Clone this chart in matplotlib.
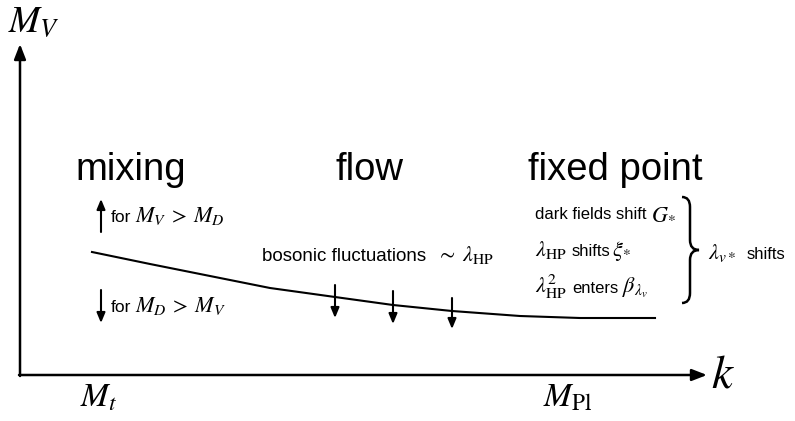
import matplotlib.pyplot as plt
from matplotlib.path import Path
from matplotlib.patches import PathPatch

plt.rcParams['font.family'] = ['Liberation Sans', 'DejaVu Sans']
plt.rcParams['mathtext.fontset'] = 'stix'

# schematic curve M_V(k), pixel coordinates of the sketch (y downwards)
curve_x = [92, 150, 215, 270, 335, 393, 452, 520, 580, 655]
curve_y = [252, 264, 277, 288, 297, 305, 311, 316, 318, 318]

# downward arrows along the flow
flow_arrow_x = [335, 393, 452]
flow_arrow_top = [285, 291, 298]
flow_arrow_tip = [318, 324, 329]

phase_labels = ["mixing", "flow", "fixed point"]
phase_x = [75, 335, 528]

# fixed point annotations: (text, x, baseline y, is_math)
fp_pieces = [
    ("dark fields shift", 535, 219, False), (r"$G_{*}$", 651, 219, True),
    (r"$\lambda_{\mathrm{HP}}$", 535, 256, True), ("shifts", 572, 256, False),
    (r"$\xi_{*}$", 612, 256, True),
    (r"$\lambda_{\mathrm{HP}}^{2}$", 535, 293, True), ("enters", 572, 293, False),
    (r"$\beta_{\lambda_{v}}$", 622, 293, True),
]

TXT = 12
MATH = 16

fig = plt.figure(figsize=(7.95, 4.21), dpi=100)
ax = fig.add_axes([0, 0, 1, 1])
ax.set_xlim(0, 795)
ax.set_ylim(421, 0)
ax.axis('off')

# axes of the sketch
ax.annotate('', xy=(20, 44), xytext=(20, 376),
            arrowprops=dict(arrowstyle='-|>,head_length=0.9,head_width=0.35', lw=1.8, color='black',
                            shrinkA=0, shrinkB=0))
ax.annotate('', xy=(707, 375), xytext=(19, 375),
            arrowprops=dict(arrowstyle='-|>,head_length=0.9,head_width=0.35', lw=1.8, color='black',
                            shrinkA=0, shrinkB=0))

ax.text(8, 22, r'$M_V$', fontsize=27, va='center', ha='left')
ax.text(711, 375, r'$k$', fontsize=34, va='center', ha='left')
ax.text(80, 398, r'$M_t$', fontsize=24, va='center', ha='left')
ax.text(543, 398, r'$M_{\mathrm{Pl}}$', fontsize=24, va='center', ha='left')

# curve
ax.plot(curve_x, curve_y, color='black', lw=1.5)

for x, t, b in zip(flow_arrow_x, flow_arrow_top, flow_arrow_tip):
    ax.annotate('', xy=(x, b), xytext=(x, t),
                arrowprops=dict(arrowstyle='-|>,head_length=0.6,head_width=0.25', lw=1.5,
                                color='black', shrinkA=0, shrinkB=0))

for lab, x in zip(phase_labels, phase_x):
    ax.text(x, 170, lab, fontsize=27.5, va='center', ha='left')

# mixing arrows
ax.annotate('', xy=(101, 199), xytext=(101, 232),
            arrowprops=dict(arrowstyle='-|>,head_length=0.6,head_width=0.25', lw=1.5,
                            color='black', shrinkA=0, shrinkB=0))
ax.annotate('', xy=(101, 323), xytext=(101, 290),
            arrowprops=dict(arrowstyle='-|>,head_length=0.6,head_width=0.25', lw=1.5,
                            color='black', shrinkA=0, shrinkB=0))
ax.text(111, 222, 'for', fontsize=12.5, va='baseline', ha='left')
ax.text(135, 222, r'$M_V\:>\:M_D$', fontsize=MATH, va='baseline', ha='left')
ax.text(111, 312, 'for', fontsize=12.5, va='baseline', ha='left')
ax.text(135, 312, r'$M_D\:>\:M_V$', fontsize=MATH, va='baseline', ha='left')

ax.text(262, 261, 'bosonic fluctuations', fontsize=13.5, va='baseline', ha='left')
ax.text(436, 261, r'$\sim\;\lambda_{\mathrm{HP}}$', fontsize=MATH, va='baseline', ha='left')

for s, x, y, is_math in fp_pieces:
    ax.text(x, y, s, fontsize=MATH if is_math else TXT, va='baseline', ha='left')

# brace
x0, xm, xt = 682, 690, 699
y0, yc, y1 = 197, 250, 303
verts = [(x0, y0), (xm, y0), (xm, y0 + 10),
         (xm, yc - 10),
         (xm, yc), (xt, yc),
         (xm, yc), (xm, yc + 10),
         (xm, y1 - 10),
         (xm, y1), (x0, y1)]
codes = [Path.MOVETO, Path.CURVE3, Path.CURVE3,
         Path.LINETO,
         Path.CURVE3, Path.CURVE3,
         Path.CURVE3, Path.CURVE3,
         Path.LINETO,
         Path.CURVE3, Path.CURVE3]
ax.add_patch(PathPatch(Path(verts, codes), fill=False, lw=1.8, color='black'))

ax.text(708, 259, r'$\lambda_{v*}$', fontsize=MATH, va='baseline', ha='left')
ax.text(747, 259, 'shifts', fontsize=TXT, va='baseline', ha='left')

fig.savefig('out.png', dpi=100)
